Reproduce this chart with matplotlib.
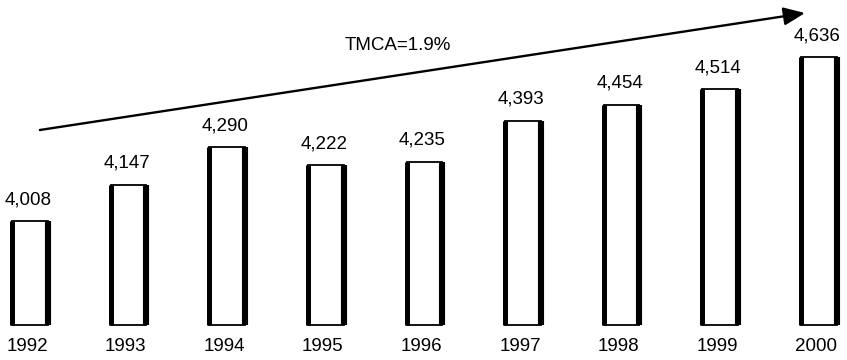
import matplotlib.pyplot as plt

# --- data ---
years = ["1992", "1993", "1994", "1995", "1996", "1997", "1998", "1999", "2000"]
values = [4008, 4147, 4290, 4222, 4235, 4393, 4454, 4514, 4636]
growth_label = "TMCA=1.9%"

BASE = 3610      # truncated baseline of the bars
BAR_W = 0.36

plt.rcParams['font.family'] = ['Liberation Sans', 'DejaVu Sans']

fig = plt.figure(figsize=(8.47, 3.6), dpi=100)
ax = fig.add_axes([0, 0, 1, 1])
ax.set_xlim(-0.304, 8.286)
ax.set_ylim(3476, 4855)
ax.axis('off')

xs = list(range(len(years)))
heights = [v - BASE for v in values]
bars = ax.bar(xs, heights, bottom=BASE, width=BAR_W, color='white',
              edgecolor='black', linewidth=1.3)

# heavy side strokes on every bar
for b in bars:
    x0 = b.get_x()
    x1 = x0 + b.get_width()
    top = b.get_y() + b.get_height()
    ax.vlines(x0, BASE, top, color='black', linewidth=3.6)
    ax.vlines(x1, BASE, top, color='black', linewidth=4.4)

for x, v in zip(xs, values):
    ax.annotate(f"{v:,}", (x, v), xytext=(-2, 13), textcoords='offset pixels',
                ha='center', va='bottom', fontsize=13.5)
    ax.annotate(years[x], (x, BASE), xytext=(-3, -13), textcoords='offset pixels',
                ha='center', va='top', fontsize=13.5)

# growth trend arrow
ax.annotate("", xy=(7.86, 4805), xytext=(0.10, 4357),
            arrowprops=dict(arrowstyle='-|>,head_length=1.3,head_width=0.55',
                            color='black', lw=1.7, shrinkA=0, shrinkB=0))
ax.text(3.73, 4682, growth_label, ha='center', va='center', fontsize=13.5)

plt.savefig("out.png", dpi=100, facecolor='white')
